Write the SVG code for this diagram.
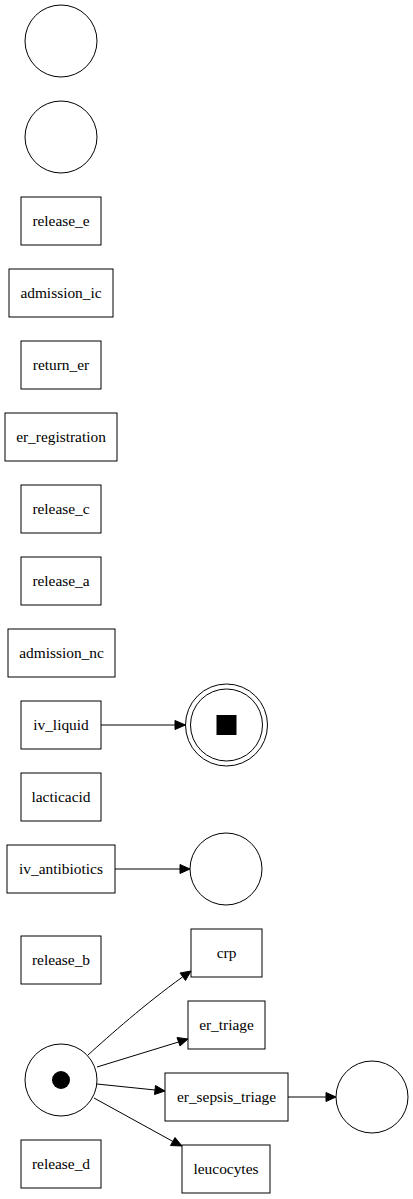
<svg xmlns="http://www.w3.org/2000/svg" width="413" height="1199" viewBox="0 0 413 1199">
<defs>
<style>
.n{fill:#fff;stroke:#000;stroke-width:1}
.t{font-family:'Liberation Serif','Times New Roman',Times,serif;font-size:15.4px;text-anchor:middle;fill:#000}
.e{fill:none;stroke:#000;stroke-width:1}
.ah{fill:#000;stroke:#000;stroke-width:1}
</style>
</defs>
<rect width="413" height="1199" fill="#fff"/>
<g id="p1"><circle class="n" cx="61" cy="41" r="36"/></g>
<g id="p2"><circle class="n" cx="61" cy="137" r="36"/></g>
<g id="release_e"><rect class="n" x="21" y="197" width="80" height="48"/><text class="t" x="61" y="226">release_e</text></g>
<g id="admission_ic"><rect class="n" x="9" y="269" width="104" height="48"/><text class="t" x="61" y="298">admission_ic</text></g>
<g id="return_er"><rect class="n" x="21" y="341" width="80" height="48"/><text class="t" x="61" y="370">return_er</text></g>
<g id="er_registration"><rect class="n" x="5" y="413" width="112" height="48"/><text class="t" x="61" y="442">er_registration</text></g>
<g id="release_c"><rect class="n" x="21" y="485" width="80" height="48"/><text class="t" x="61" y="514">release_c</text></g>
<g id="release_a"><rect class="n" x="21" y="557" width="80" height="48"/><text class="t" x="61" y="586">release_a</text></g>
<g id="admission_nc"><rect class="n" x="8" y="629" width="107" height="48"/><text class="t" x="61.5" y="658">admission_nc</text></g>
<g id="iv_liquid"><rect class="n" x="21" y="701" width="80" height="48"/><text class="t" x="61" y="730">iv_liquid</text></g>
<g id="final"><circle class="n" cx="226.5" cy="725" r="41"/><circle class="n" cx="226.5" cy="725" r="36"/><rect x="216.5" y="715" width="20" height="20" fill="#000"/></g>
<g id="lacticacid"><rect class="n" x="21" y="773" width="80" height="48"/><text class="t" x="61" y="802">lacticacid</text></g>
<g id="iv_antibiotics"><rect class="n" x="7" y="845" width="108" height="48"/><text class="t" x="61" y="874">iv_antibiotics</text></g>
<g id="p3"><circle class="n" cx="226" cy="869" r="36"/></g>
<g id="release_b"><rect class="n" x="21" y="936" width="80" height="48"/><text class="t" x="61" y="965">release_b</text></g>
<g id="crp"><rect class="n" x="191" y="929" width="71" height="48"/><text class="t" x="226.5" y="958">crp</text></g>
<g id="er_triage"><rect class="n" x="188" y="1001" width="77" height="48"/><text class="t" x="226.5" y="1030">er_triage</text></g>
<g id="er_sepsis_triage"><rect class="n" x="165" y="1073" width="123" height="48"/><text class="t" x="226.5" y="1102">er_sepsis_triage</text></g>
<g id="leucocytes"><rect class="n" x="182" y="1145" width="88" height="48"/><text class="t" x="226" y="1174">leucocytes</text></g>
<g id="release_d"><rect class="n" x="21" y="1140" width="80" height="48"/><text class="t" x="61" y="1169">release_d</text></g>
<g id="start"><circle class="n" cx="61" cy="1080" r="36"/><circle cx="61" cy="1080" r="9" fill="#000"/></g>
<g id="p4"><circle class="n" cx="372" cy="1097" r="36"/></g>
<g id="edges">
<path class="e" d="M101,725 L175,725"/><polygon class="ah" points="175,720.5 185.5,725 175,729.5"/>
<path class="e" d="M115,869 L180,869"/><polygon class="ah" points="180,864.5 190,869 180,873.5"/>
<path class="e" d="M88,1055 C110,1035 145,1004 182.5,977"/><polygon class="ah" points="180,973 191,971 185.5,980.5"/>
<path class="e" d="M97,1067 L178.5,1042"/><polygon class="ah" points="177,1037.5 188,1039 180,1046"/>
<path class="e" d="M97,1084 L155,1090"/><polygon class="ah" points="155.5,1085.5 165,1091 154.5,1094.5"/>
<path class="e" d="M94,1098 L173,1141.5"/><polygon class="ah" points="175,1137.5 182,1146 170.5,1145.5"/>
<path class="e" d="M288,1097 L326,1097"/><polygon class="ah" points="326,1092.5 336,1097 326,1101.5"/>
</g>
</svg>
